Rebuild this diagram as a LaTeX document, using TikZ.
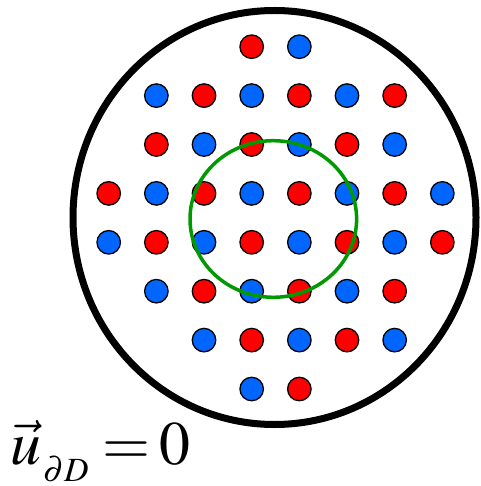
\documentclass[tikz,border=0pt]{standalone}
\usepackage{mathptmx}
\definecolor{dotred}{RGB}{255,0,0}
\definecolor{dotblue}{RGB}{0,102,255}
\definecolor{ringgreen}{RGB}{0,153,0}
\tikzset{
  dotbase/.style={circle,draw=black,line width=1.3bp,minimum size=23.5bp,inner sep=0pt},
  reddot/.style={dotbase,fill=dotred},
  bluedot/.style={dotbase,fill=dotblue},
  domainring/.style={draw=black,line width=7bp},
  probering/.style={draw=ringgreen,line width=3.5bp}
}
\begin{document}
\begin{tikzpicture}[x=1bp,y=-1bp]
\useasboundingbox (0,0) rectangle (481,486);
% rows: index, first column, last column
\foreach \r/\a/\b in {0/3/4,1/1/6,2/1/6,3/0/7,4/0/7,5/1/6,6/2/6,7/3/4}{
  \foreach \c in {\a,...,\b}{
    \pgfmathtruncatemacro{\dpar}{mod(\r+\c,2)}
    \ifnum\dpar=1
      \node[reddot] (d-\r-\c) at ({108.7+47.66*\c},{46.7+48.9*\r}) {};
    \else
      \node[bluedot] (d-\r-\c) at ({108.7+47.66*\c},{46.7+48.9*\r}) {};
    \fi
  }
}
\draw[domainring] (274.5,217.5) ellipse [x radius=201.5, y radius=207];
\draw[probering] (273.3,219) ellipse [x radius=83.3, y radius=78.3];
\node[anchor=base west,inner sep=0pt,font=\fontsize{62}{70}\selectfont] (bc) at (10,464)
  {$\vec{u}$\kern2bp\raisebox{-17bp}{\fontsize{34}{36}\selectfont$\partial D$}\kern14bp$=$\kern9bp$0$};
\end{tikzpicture}
\end{document}
